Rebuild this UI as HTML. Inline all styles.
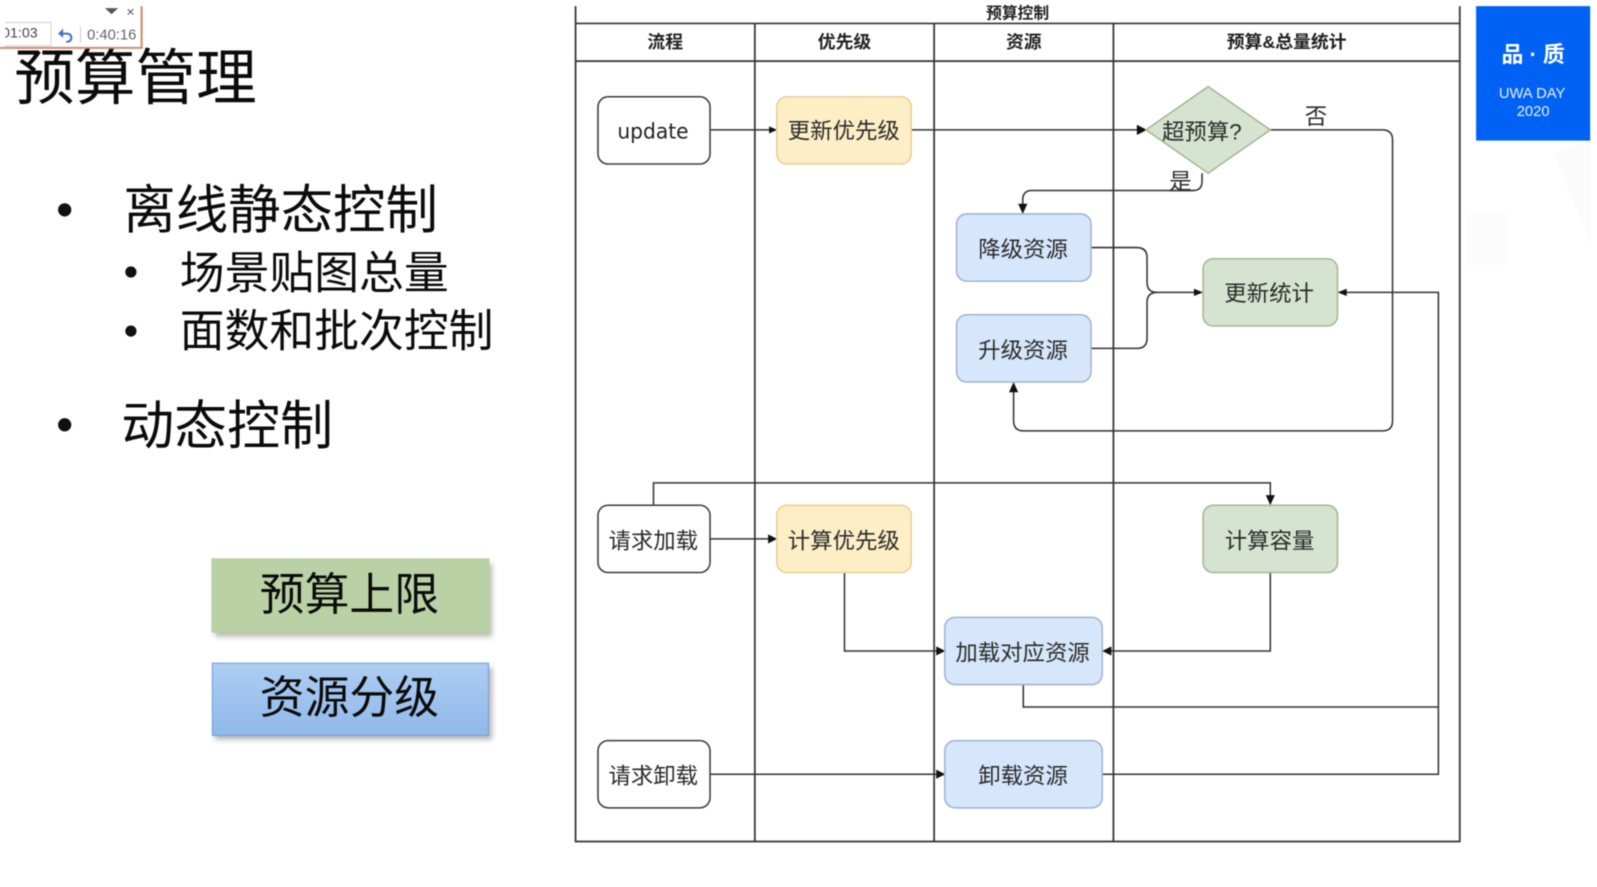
<!DOCTYPE html>
<html lang="zh">
<head>
<meta charset="utf-8">
<title>预算管理</title>
<style>
html,body{margin:0;padding:0;background:#fff;width:1597px;height:887px;overflow:hidden}
svg{display:block;filter:blur(.5px)}
text{font-family:"Liberation Sans","Noto Sans CJK SC","WenQuanYi Zen Hei",sans-serif}
.t{fill:#0b0b0b}
.n{font-size:22px;text-anchor:middle;fill:#2b2b2b;transform:translate(-.7px,-.8px)}
.h{font-size:17.5px;font-weight:700;text-anchor:middle;fill:#222}
.l{fill:none;stroke:#333;stroke-width:1.5}
.g{fill:none;stroke:#333;stroke-width:1.7}
.a{fill:#111}
</style>
</head>
<body>
<svg width="1597" height="887" viewBox="0 0 1567.7 870.7" xmlns="http://www.w3.org/2000/svg">
<defs>
<linearGradient id="bl" x1="0" y1="0" x2="0" y2="1"><stop offset="0" stop-color="#aecdf3"/><stop offset="1" stop-color="#8fb9ea"/></linearGradient>
<filter id="sh" x="-5%" y="-10%" width="110%" height="130%"><feGaussianBlur stdDeviation="2.5"/></filter>
</defs>
<rect width="1567.7" height="870.7" fill="#fff"/>

<!-- watermark -->
<polygon points="1525,150 1562,138 1562,240" fill="#fbfbfb"/>
<rect x="1440" y="210" width="40" height="50" fill="#fcfcfc"/>

<!-- title -->
<text x="14" y="97" class="t" font-size="59.5">预算管理</text>

<!-- toolbar -->
<rect x="0" y="0" width="1567" height="6" fill="#fff"/>
<rect x="0" y="6" width="139" height="41" fill="#fff"/>
<path d="M139 6V47H0" fill="none" stroke="#d28a6e" stroke-width="2"/>
<rect x="4" y="22" width="46" height="23" fill="#fff" stroke="#d0d0d0"/>
<text x="2" y="37" font-size="14" fill="#444">01:03</text>
<rect x="0" y="20" width="5" height="26" fill="#fff"/>
<path d="M58 33h7q5 0 5 4t-5 4" fill="none" stroke="#4477bb" stroke-width="2"/>
<path d="M62 28l-5 5 5 4z" fill="#4477bb"/>
<line x1="79" y1="26" x2="79" y2="42" stroke="#ccc"/>
<text x="85.500" y="39" font-size="14.500" fill="#666">0:40:16</text>
<path d="M103 8h13l-6.500 6z" fill="#555"/>
<text x="124" y="16" font-size="14" fill="#555">×</text>

<!-- bullets -->
<circle cx="63.500" cy="206" r="6.500" fill="#111"/>
<circle cx="128.500" cy="267" r="5.500" fill="#111"/>
<circle cx="128.500" cy="325" r="5.500" fill="#111"/>
<circle cx="63.500" cy="417" r="6.500" fill="#111"/>
<text x="121" y="224" class="t" font-size="51.500">离线静态控制</text>
<text x="176.500" y="283" class="t" font-size="44">场景贴图总量</text>
<text x="176.500" y="340" class="t" font-size="44">面数和批次控制</text>
<text x="119" y="436" class="t" font-size="52">动态控制</text>

<!-- callouts -->
<rect x="211" y="553" width="272" height="72" fill="#8a8a80" opacity=".6" filter="url(#sh)"/>
<rect x="207.500" y="548" width="273" height="73" fill="#bad0a5"/>
<text x="343" y="599" font-size="44" text-anchor="middle" class="t">预算上限</text>
<rect x="211" y="655" width="272" height="71" fill="#777" opacity=".55" filter="url(#sh)"/>
<rect x="208.500" y="651" width="271" height="71" fill="url(#bl)" stroke="#6f9fd4"/>
<text x="343" y="700" font-size="44" text-anchor="middle" class="t">资源分级</text>

<!-- swimlane -->
<g class="g">
<path d="M565 6V826H1433V6"/>
<path d="M565 23H1433M565 60H1433"/>
<path d="M741 23V826M917 23V826M1093 23V826"/>
</g>
<text x="999" y="18" font-size="15.500" font-weight="700" text-anchor="middle" fill="#222">预算控制</text>
<text x="653" y="47" class="h">流程</text>
<text x="829" y="47" class="h">优先级</text>
<text x="1005" y="47" class="h">资源</text>
<text x="1263" y="47" class="h">预算&amp;总量统计</text>

<!-- connectors -->
<g class="l">
<path d="M697 127.500H756"/>
<path d="M895 127.500H1119"/>
<path d="M1247 127.500H1357Q1367 127.500 1367 137.500V413Q1367 423 1357 423H1005Q995 423 995 413V382"/>
<path d="M1180 170V178Q1180 187 1171 187H1013Q1004 187 1004 196V203"/>
<path d="M1071 243H1116Q1126 243 1126 253V277Q1126 287 1136 287H1174"/>
<path d="M1071 342H1116Q1126 342 1126 332V297Q1126 287 1136 287"/>
<path d="M1082 760H1412V287H1320"/>
<path d="M1004.500 672V694H1412"/>
<path d="M641.500 496V474H1247V489"/>
<path d="M697 529H756"/>
<path d="M829 562V639H921"/>
<path d="M1247 562V639H1089"/>
<path d="M697 760H921"/>
</g>
<g class="a">
<path d="M763 127.500l-8-3.500v7z"/>
<path d="M1126 127.500l-10-5v10z"/>
<path d="M995 375l-4.500 10h9z"/>
<path d="M1004 210l-4.500-10h9z"/>
<path d="M1181 287l-9-3.500v7z"/>
<path d="M1313 287l9-3.500v7z"/>
<path d="M1247 496l-4.500-10h9z"/>
<path d="M763 529l-9-4.500v9z"/>
<path d="M928 639l-9-4.500v9z"/>
<path d="M1082 639l9-4.500v9z"/>
<path d="M928 760l-9-4.500v9z"/>
</g>

<!-- nodes -->
<g stroke="#3a3a3a" stroke-width="1.500" fill="#fff">
<rect x="587" y="95" width="110" height="66" rx="10"/>
<rect x="587" y="496" width="110" height="66" rx="10"/>
<rect x="587" y="727" width="110" height="66" rx="10"/>
</g>
<g stroke="#e9cf96" stroke-width="1.500" fill="#fdeec6">
<rect x="762.500" y="95" width="132" height="66" rx="10"/>
<rect x="762.500" y="496" width="132" height="66" rx="10"/>
</g>
<g stroke="#9fb3d1" stroke-width="1.500" fill="#d6e6fb">
<rect x="939" y="210" width="132" height="66" rx="10"/>
<rect x="939" y="309" width="132" height="66" rx="10"/>
<rect x="927.500" y="606" width="154.500" height="66" rx="10"/>
<rect x="927.500" y="727" width="154.500" height="66" rx="10"/>
</g>
<g stroke="#a5b594" stroke-width="1.500" fill="#d5e3d0">
<rect x="1181" y="254" width="132" height="66" rx="10"/>
<rect x="1181" y="496" width="132" height="66" rx="10"/>
<polygon points="1186,85 1247,127.500 1186,170 1125,127.500"/>
</g>

<text x="641" y="136" font-size="21" text-anchor="middle" textLength="70" lengthAdjust="spacingAndGlyphs" fill="#222" style="font-family:'DejaVu Sans',sans-serif">update</text>
<text x="829" y="137" class="n">更新优先级</text>
<text x="1180.500" y="137.500" class="n">超预算?</text>
<text x="1292.500" y="122.500" class="n">否</text>
<rect x="1147" y="168" width="24" height="19" fill="#fff"/>
<text x="1159.500" y="186.500" class="n">是</text>
<path d="M1147 187H1172" class="l"/>
<text x="1005" y="253" class="n">降级资源</text>
<text x="1005" y="352" class="n">升级资源</text>
<text x="1246.500" y="296.500" class="n">更新统计</text>
<text x="642" y="539" class="n">请求加载</text>
<text x="829" y="539" class="n">计算优先级</text>
<text x="1247" y="539" class="n">计算容量</text>
<text x="1004.500" y="649" class="n">加载对应资源</text>
<text x="642" y="770" class="n">请求卸载</text>
<text x="1005" y="770" class="n">卸载资源</text>

<!-- brand box -->
<rect x="1449" y="6" width="112" height="132" fill="#0062f4"/>
<text x="1505" y="61" font-size="21.500" font-weight="700" fill="#fff" text-anchor="middle">品 · 质</text>
<text x="1504" y="96" font-size="14.500" fill="#e6efff" text-anchor="middle">UWA DAY</text>
<text x="1505" y="114" font-size="14.500" fill="#e6efff" text-anchor="middle">2020</text>
</svg>
</body>
</html>
